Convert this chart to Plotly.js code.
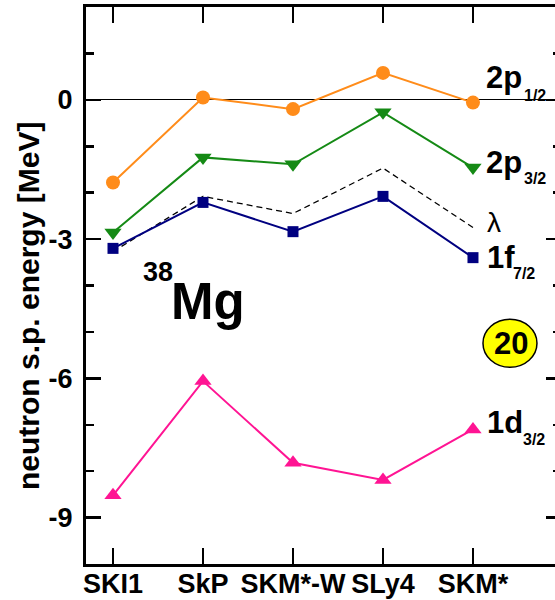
<!DOCTYPE html>
<html>
<head>
<meta charset="utf-8">
<script src="https://cdn.plot.ly/plotly-3.0.1.min.js"></script>
<style>
html,body{margin:0;padding:0;overflow:hidden;background:#fff;}
#chart{width:565px;height:600px;}
</style>
</head>
<body>
<div id="chart"></div>
<script>
// ---- data ----
const models = ['SKI1', 'SkP', 'SKM*-W', 'SLy4', 'SKM*'];
const p12 = [-1.78, 0.05, -0.20, 0.58, -0.06];     // 2p1/2
const p32 = [-2.86, -1.24, -1.39, -0.27, -1.46];   // 2p3/2
const f72 = [-3.20, -2.21, -2.84, -2.08, -3.40];   // 1f7/2
const lam = [-3.27, -2.08, -2.45, -1.47, -2.75];   // lambda (Fermi level)
const d32 = [-8.52, -6.06, -7.82, -8.19, -7.10];   // 1d3/2
const yTickVals = [-9, -6, -3, 0];
const yTickText = ['-9', '-6', '-3', '0'];

const FONT = 'Liberation Sans, Arial, Helvetica, sans-serif';
const bold = s => '<b>' + s + '</b>';

function line(y, color, symbol, size, dash) {
  const t = {
    x: models, y: y, type: 'scatter',
    mode: symbol ? 'lines+markers' : 'lines',
    line: {color: color, width: symbol ? 2 : 1.3, dash: dash || 'solid'},
    cliponaxis: false, hoverinfo: 'skip'
  };
  if (symbol) t.marker = {symbol: symbol, size: size, color: color};
  return t;
}

const traces = [
  line(lam, '#000000', null, 0, '6px,4px'),
  line(p12, '#ff8c1a', 'circle', 14),
  line(p32, '#158a15', 'triangle-down', 15),
  line(f72, '#000080', 'square', 11),
  line(d32, '#ff1493', 'triangle-up', 15)
];

// pixel helpers for annotation placement (layout only)
const px2x = px => (px - 113) / 90;
const py2y = py => (100.7 - py) / 46.4;
const px2p = px => (px - 86) / 475;
const py2p = py => (564 - py) / 557;

function lab(text, px, py, size, weight, anchor) {
  return {
    x: px2x(px), y: py2y(py), xref: 'x', yref: 'y',
    text: weight === 'normal' ? text : bold(text),
    showarrow: false, xanchor: anchor || 'left', yanchor: 'middle',
    font: {family: FONT, size: size, color: '#000'}
  };
}

const annotations = [
  lab('2p', 484, 78, 31), lab('1/2', 522, 96, 16),
  lab('2p', 484, 163, 31), lab('3/2', 522, 179, 16),
  lab('λ', 485, 223, 28, 'normal'),
  lab('1f', 485, 258, 31), lab('7/2', 511, 274, 16),
  lab('1d', 485, 423, 31), lab('3/2', 521, 440, 16),
  lab('38', 141, 273, 27),
  lab('Mg', 169, 302, 51),
  lab('20', 511, 344, 31, 'bold', 'center'),
  {
    x: px2p(28), y: py2p(306), xref: 'paper', yref: 'paper',
    text: bold('neutron s.p. energy [MeV]'), textangle: -90, showarrow: false,
    xanchor: 'center', yanchor: 'middle',
    font: {family: FONT, size: 30, color: '#000'}
  }
];

const shapes = [{
  type: 'circle', xref: 'x', yref: 'y', xsizemode: 'pixel', ysizemode: 'pixel',
  xanchor: px2x(510), yanchor: py2y(344),
  x0: -27, x1: 27, y0: -24, y1: 24,
  fillcolor: '#ffff00', line: {color: '#000', width: 1.5}, layer: 'above'
}];

const layout = {
  width: 565, height: 600,
  margin: {l: 86, r: 4, t: 7, b: 36},
  paper_bgcolor: '#fff', plot_bgcolor: '#fff',
  showlegend: false,
  font: {family: FONT, color: '#000'},
  xaxis: {
    type: 'category', range: [-0.3, 4.978],
    tickmode: 'array', tickvals: models, ticktext: models.map(bold),
    showline: true, linewidth: 3, linecolor: '#000', mirror: 'allticks',
    ticks: 'inside', ticklen: 16, tickwidth: 2.5, tickcolor: '#000',
    showgrid: false, zeroline: false,
    ticklabelstandoff: -6,
    tickfont: {family: FONT, size: 27, color: '#000'}
  },
  yaxis: {
    range: [-10, 2], tickmode: 'array', tickvals: yTickVals, ticktext: yTickText.map(bold),
    showline: true, linewidth: 3, linecolor: '#000', mirror: 'allticks',
    ticks: 'inside', ticklen: 15, tickwidth: 2.5, tickcolor: '#000',
    minor: {dtick: 1, tick0: 0, ticks: 'inside', ticklen: 8, tickwidth: 2.5, tickcolor: '#000', showgrid: false},
    showgrid: false, zeroline: true, zerolinecolor: '#000', zerolinewidth: 1,
    ticklabelstandoff: 5,
    tickfont: {family: FONT, size: 27, color: '#000'}
  },
  annotations: annotations,
  shapes: shapes
};

Plotly.newPlot('chart', traces, layout, {displayModeBar: false, staticPlot: true});
</script>
</body>
</html>
